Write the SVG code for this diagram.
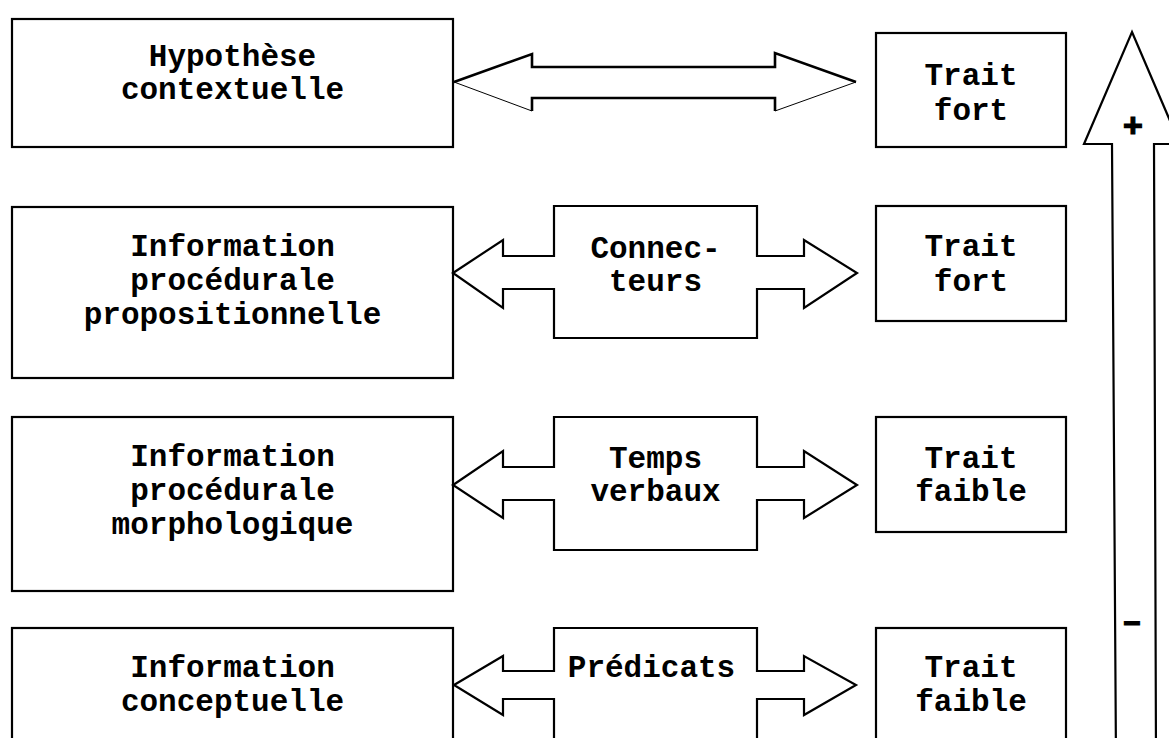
<svg xmlns="http://www.w3.org/2000/svg" width="1169" height="738" viewBox="0 0 1169 738">
  <style>
    .box { fill: #fff; stroke: #000; stroke-width: 2.2; }
    .arr { fill: #fff; stroke: #000; stroke-width: 2.2; stroke-linejoin: miter; }
    .thin { fill: #fff; stroke: #000; stroke-width: 1; }
    .thick { fill: none; stroke: #000; stroke-width: 2.6; stroke-linejoin: miter; }
    .t { font-family: "Courier New", "Liberation Mono", monospace; font-weight: bold; font-size: 31px; text-anchor: middle; fill: #000; }
    .sign { font-family: "Courier New", "Liberation Mono", monospace; font-weight: bold; font-size: 34px; text-anchor: middle; fill: #000; stroke: #000; stroke-width: 1.2; }
  </style>
  <rect width="1169" height="738" fill="#fff"/>

  <g id="n-hypothese">
    <rect class="box" x="12" y="19" width="441" height="128"/>
    <text class="t" x="232.5" y="66">Hypothèse</text>
    <text class="t" x="232.5" y="99">contextuelle</text>
  </g>
  <g id="n-info-prop">
    <rect class="box" x="12" y="207" width="441" height="171"/>
    <text class="t" x="232.5" y="256">Information</text>
    <text class="t" x="232.5" y="290">procédurale</text>
    <text class="t" x="232.5" y="324">propositionnelle</text>
  </g>
  <g id="n-info-morph">
    <rect class="box" x="12" y="417" width="441" height="174"/>
    <text class="t" x="232.5" y="466">Information</text>
    <text class="t" x="232.5" y="500">procédurale</text>
    <text class="t" x="232.5" y="534">morphologique</text>
  </g>
  <g id="n-info-concept">
    <rect class="box" x="12" y="628" width="441" height="130"/>
    <text class="t" x="232.5" y="677">Information</text>
    <text class="t" x="232.5" y="711">conceptuelle</text>
  </g>

  <g id="n-trait1">
    <rect class="box" x="876" y="33" width="190" height="114"/>
    <text class="t" x="971" y="85">Trait</text>
    <text class="t" x="971" y="120">fort</text>
  </g>
  <g id="n-trait2">
    <rect class="box" x="876" y="206" width="190" height="115"/>
    <text class="t" x="971" y="256">Trait</text>
    <text class="t" x="971" y="291">fort</text>
  </g>
  <g id="n-trait3">
    <rect class="box" x="876" y="417" width="190" height="115"/>
    <text class="t" x="971" y="468">Trait</text>
    <text class="t" x="971" y="501">faible</text>
  </g>
  <g id="n-trait4">
    <rect class="box" x="876" y="628" width="190" height="130"/>
    <text class="t" x="971" y="677">Trait</text>
    <text class="t" x="971" y="711">faible</text>
  </g>

  <g id="connectors">
    <g id="c-hypothese">
      <polygon class="thin" points="454,82 532,54 532,67 775,67 775,53 856,82 775,111 775,98 532,98 532,111"/>
      <polyline class="thick" points="454,82 532,54 532,67 775,67 775,53 856,82"/>
      <polyline class="thick" points="532,111 532,98 775,98 775,111"/>
    </g>
    <g id="c-connecteurs">
      <polygon class="arr" points="453,273 503,240 503,256 554,256 554,206 757,206 757,256 804,256 804,240 857,273 804,308 804,289 757,289 757,338 554,338 554,289 503,289 503,308"/>
      <text class="t" x="655.5" y="258">Connec-</text>
      <text class="t" x="655.5" y="291">teurs</text>
    </g>
    <g id="c-temps">
      <polygon class="arr" points="453,485 503,451 503,467 554,467 554,417 757,417 757,467 804,467 804,451 857,485 804,518 804,500 757,500 757,550 554,550 554,500 503,500 503,518"/>
      <text class="t" x="655.5" y="468">Temps</text>
      <text class="t" x="655.5" y="501">verbaux</text>
    </g>
    <g id="c-predicats">
      <polygon class="arr" points="454,685 503,656 503,671 554,671 554,628 757,628 757,671 804,671 804,656 856,685 804,715 804,699 757,699 757,760 554,760 554,699 503,699 503,715"/>
      <text class="t" x="651.5" y="677">Prédicats</text>
    </g>
    <g id="c-scale">
      <polygon class="arr" points="1132,32 1180,144 1154,144 1156,760 1116,760 1112,144 1084,144"/>
      <text class="sign" x="1133" y="137">+</text>
      <text class="sign" x="1132" y="632">–</text>
    </g>
  </g>
</svg>
